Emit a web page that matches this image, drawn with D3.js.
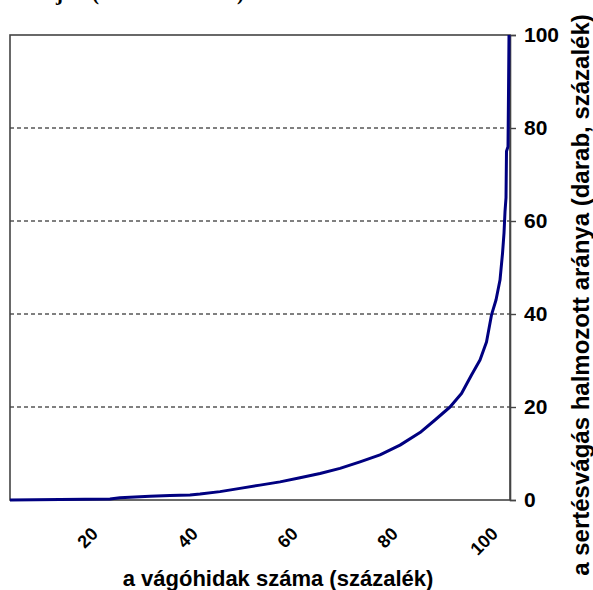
<!DOCTYPE html>
<html>
<head>
<meta charset="utf-8">
<script src="https://cdn.jsdelivr.net/npm/d3@7"></script>
<style>
  html, body { margin: 0; padding: 0; background: #fff; }
  svg { display: block; }
</style>
</head>
<body>
<svg id="chart" width="593" height="590"></svg>
<script>
// cumulative share of slaughterhouses (x, %) vs cumulative share of pig slaughter (y, %)
const plantShare = [0, 5, 10, 15, 20, 22, 25, 28, 32, 36, 38, 42, 46, 50, 54, 58, 62, 66, 70, 74, 78, 82, 85, 88, 90.3, 92.3, 94, 95.3, 96.3, 97.2, 98, 98.5, 98.8, 99.0, 99.2, 99.3, 99.6, 99.7, 99.8];
const slaughterShare = [0, 0.05, 0.1, 0.15, 0.2, 0.5, 0.65, 0.8, 0.95, 1.1, 1.3, 1.8, 2.5, 3.2, 3.9, 4.8, 5.7, 6.8, 8.2, 9.7, 11.8, 14.5, 17.2, 20, 22.9, 26.9, 30.1, 34, 39.8, 43, 47.3, 53, 57.4, 62, 65, 75, 76, 87.5, 100];
const xTicks = [20, 40, 60, 80, 100];
const yTicks = [0, 20, 40, 60, 80, 100];
const gridTicks = [20, 40, 60, 80];
const xTitle = "a vágóhidak száma (százalék)";
const yTitle = "a sertésvágás halmozott aránya (darab, százalék)";
const topTitleA = "A vágóhidak koncentrációja";
const topTitleB = "(2000. december 31.)";

const svg = d3.select("#chart");
const L = 10, R = 510, T = 35, B = 500;
const x = d3.scaleLinear().domain([0, 100]).range([L, R]);
const y = d3.scaleLinear().domain([0, 100]).range([B, T]);
const font = "Arial, 'Liberation Sans', sans-serif";

// title above the chart, cropped by the top edge (only descenders visible)
const tt = svg.append("text")
  .attr("y", 0)
  .attr("font-family", "'Times New Roman', 'Liberation Serif', serif")
  .attr("font-weight", "bold")
  .attr("font-size", 21)
  .attr("fill", "#000");
const ta = tt.append("tspan").text(topTitleA);
const tb = tt.append("tspan").attr("x", 92).attr("textLength", 152).attr("lengthAdjust", "spacing").text(topTitleB);
const jIdx = topTitleA.lastIndexOf("j");
const offJ = tt.node().getSubStringLength(0, jIdx);
ta.attr("x", 56 - offJ);

// gridlines
svg.append("g").selectAll("line").data(gridTicks).join("line")
  .attr("x1", L).attr("x2", R)
  .attr("y1", d => y(d)).attr("y2", d => y(d))
  .attr("stroke", "#000").attr("stroke-width", 1)
  .attr("stroke-dasharray", "4,3");

// frame
svg.append("rect")
  .attr("x", L).attr("y", T).attr("width", R - L).attr("height", B - T)
  .attr("fill", "none").attr("stroke", "#444").attr("stroke-width", 1.6);

// right axis
const yAxis = d3.axisRight(y).tickValues(yTicks).tickSize(6).tickPadding(8).tickFormat(d3.format("d"));
const ga = svg.append("g").attr("transform", `translate(${R},0)`).call(yAxis);
ga.select(".domain").attr("stroke", "#444").attr("stroke-width", 1.6);
ga.selectAll(".tick line").attr("stroke", "#444").attr("stroke-width", 1.4);
ga.selectAll(".tick text")
  .attr("font-family", font).attr("font-weight", "bold").attr("font-size", 21)
  .attr("fill", "#000");

// x tick labels (rotated)
svg.append("g").selectAll("text").data(xTicks).join("text")
  .attr("transform", d => `translate(${x(d) - 11},535) rotate(-45)`)
  .attr("text-anchor", "end")
  .attr("font-family", font).attr("font-weight", "bold").attr("font-size", 18)
  .attr("fill", "#000")
  .text(d => d);

// curve
const line = d3.line().x((d, i) => x(plantShare[i])).y(d => y(d));
svg.append("path")
  .datum(slaughterShare)
  .attr("d", line)
  .attr("fill", "none")
  .attr("stroke", "#000080")
  .attr("stroke-width", 3)
  .attr("stroke-linejoin", "round");

// axis titles
svg.append("text")
  .attr("x", 278).attr("y", 586)
  .attr("text-anchor", "middle")
  .attr("font-family", font).attr("font-weight", "bold").attr("font-size", 22)
  .attr("fill", "#000")
  .text(xTitle);

svg.append("text")
  .attr("transform", "translate(589,295) rotate(-90)")
  .attr("text-anchor", "middle")
  .attr("font-family", font).attr("font-weight", "bold").attr("font-size", 24)
  .attr("fill", "#000")
  .text(yTitle);
</script>
</body>
</html>
